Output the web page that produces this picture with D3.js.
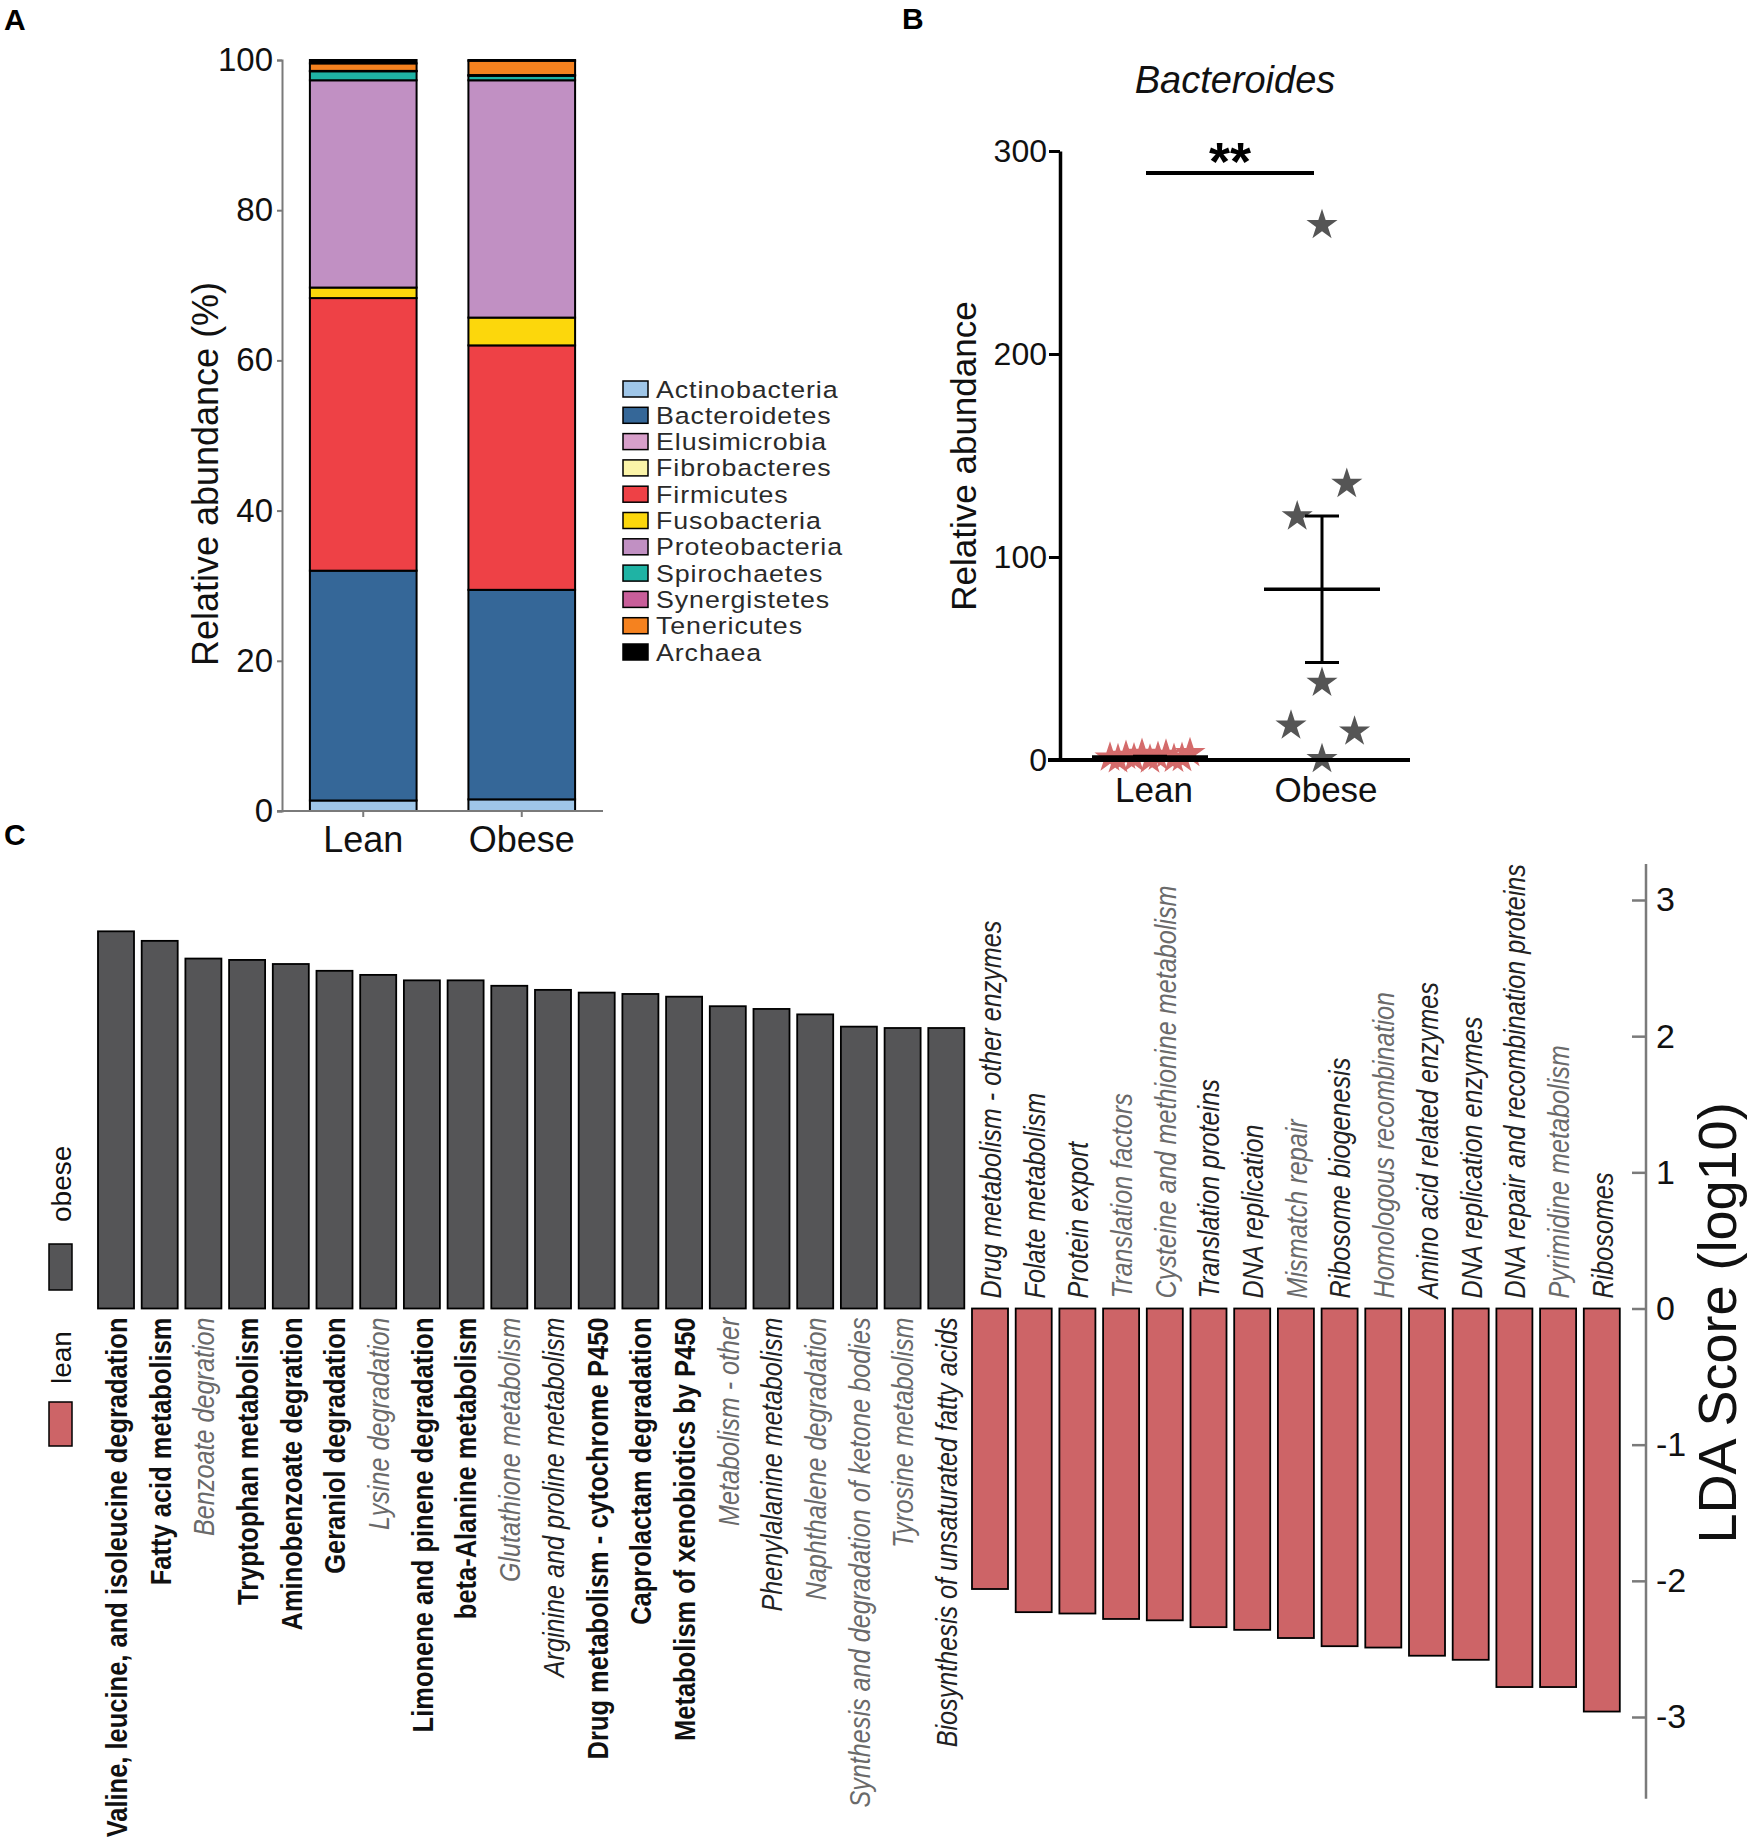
<!DOCTYPE html>
<html lang="en">
<head>
    <meta charset="UTF-8">
    <title>Lean vs obese microbiota</title>
    <script src="https://d3js.org/d3.v7.min.js"></script>
    <style>
        body { margin: 0; background: #fff; }
        svg { display: block; }
        text { font-family: "Liberation Sans", Arial, sans-serif; }
    </style>
</head>
<body>
<div id="container"></div>
<script>
    // ---------- data ----------
    // panel A: relative abundance (%) of phyla
    const phyla = ['Actinobacteria', 'Bacteroidetes', 'Elusimicrobia', 'Fibrobacteres', 'Firmicutes',
        'Fusobacteria', 'Proteobacteria', 'Spirochaetes', 'Synergistetes', 'Tenericutes', 'Archaea'];
    const phylaColors = ['#9fc6e8', '#356798', '#d79fca', '#fbf4a8', '#ee4146',
        '#fcd70c', '#c190c3', '#1fb3a4', '#c95e9a', '#f5821f', '#000000'];
    const groupsA = ['Lean', 'Obese'];
    const leanPct = [1.4, 30.6, 0, 0, 36.3, 1.4, 27.6, 1.2, 0.05, 1.0, 0.45];
    const obesePct = [1.55, 27.9, 0, 0, 32.55, 3.7, 31.6, 0.6, 0.1, 1.9, 0.1];
    const ticksA = [0, 20, 40, 60, 80, 100];

    // panel B: Bacteroides relative abundance per sample
    const leanBact = [1.2, 0.4, 2.1, 0.8, 3.0, 0.2, 1.6, 2.6, 0.6, 1.0, 3.4];
    const obeseBact = [263.5, 136, 120, 38, 17, 14, 0.5];
    const obeseJitter = [0, 0.8, -0.8, 0, -1.0, 1.05, 0]; // in star widths
    const ticksB = [0, 100, 200, 300];

    // panel C: LDA scores
    const obeseFeatures = ['Valine, leucine, and isoleucine degradation', 'Fatty acid metabolism', 'Benzoate degration',
        'Tryptophan metabolism', 'Aminobenzoate degration', 'Geraniol degradation', 'Lysine degradation',
        'Limonene and pinene degradation', 'beta-Alanine metabolism', 'Glutathione metabolism',
        'Arginine and proline metabolism', 'Drug metabolism - cytochrome P450', 'Caprolactam degradation',
        'Metabolism of xenobiotics by P450', 'Metabolism - other', 'Phenylalanine metabolism',
        'Naphthalene degradation', 'Synthesis and degradation of ketone bodies', 'Tyrosine metabolism',
        'Biosynthesis of unsaturated fatty acids'];
    const obeseLDA = [2.77, 2.70, 2.57, 2.56, 2.53, 2.48, 2.45, 2.41, 2.41, 2.37, 2.34, 2.32, 2.31,
        2.29, 2.22, 2.20, 2.16, 2.07, 2.06, 2.06];
    const obeseStyle = ['b', 'b', 'l', 'b', 'b', 'b', 'l', 'b', 'b', 'l', 'i', 'b', 'b', 'b', 'l', 'i', 'l', 'l', 'l', 'i'];

    const leanFeatures = ['Drug metabolism - other enzymes', 'Folate metabolism', 'Protein export', 'Translation factors',
        'Cysteine and methionine metabolism', 'Translation proteins', 'DNA replication', 'Mismatch repair',
        'Ribosome biogenesis', 'Homologous recombination', 'Amino acid related enzymes', 'DNA replication enzymes',
        'DNA repair and recombination proteins', 'Pyrimidine metabolism', 'Ribosomes'];
    const leanLDA = [-2.06, -2.23, -2.24, -2.28, -2.29, -2.34, -2.36, -2.42, -2.48, -2.49, -2.55, -2.58,
        -2.78, -2.78, -2.96];
    const leanStyle = ['i', 'i', 'i', 'l', 'l', 'i', 'i', 'l', 'i', 'l', 'i', 'i', 'i', 'l', 'i'];
    const ticksC = [-3, -2, -1, 0, 1, 2, 3];

    const svg = d3.select('#container').append('svg')
        .attr('width', 1750).attr('height', 1839);

    // panel letters
    [['A', 4, 30], ['B', 902, 29], ['C', 4, 845]].forEach(p => {
        svg.append('text').attr('x', p[1]).attr('y', p[2]).text(p[0])
            .attr('font-size', 30).attr('font-weight', 'bold');
    });

    // ================= panel A =================
    const gA = svg.append('g');
    const xA = d3.scaleBand().domain(groupsA).range([282, 603]).paddingInner(0.327).paddingOuter(0.176);
    const yA = d3.scaleLinear().domain([0, 100]).range([811, 60]);

    const rowsA = groupsA.map((g, gi) => {
        const row = { group: g };
        phyla.forEach((p, i) => { row[p] = gi === 0 ? leanPct[i] : obesePct[i]; });
        return row;
    });
    const stackA = d3.stack().keys(phyla)(rowsA);

    stackA.forEach((layer, li) => {
        gA.selectAll(null)
            .data(layer.filter(d => d[1] - d[0] > 0.01))
            .enter()
            .append('rect')
            .attr('x', d => xA(d.data.group))
            .attr('width', xA.bandwidth())
            .attr('y', d => yA(d[1]))
            .attr('height', d => yA(d[0]) - yA(d[1]))
            .attr('fill', phylaColors[li])
            .attr('stroke', '#000')
            .attr('stroke-width', 2);
    });

    const axisAy = gA.append('g').attr('transform', 'translate(282,0)')
        .call(d3.axisLeft(yA).tickValues(ticksA).tickSize(5).tickPadding(4));
    axisAy.select('.domain').attr('stroke', '#7a7a7a').attr('stroke-width', 2);
    axisAy.selectAll('.tick line').attr('stroke', '#7a7a7a').attr('stroke-width', 2);
    axisAy.selectAll('.tick text').attr('font-size', 33).attr('fill', '#111')
        .attr('font-family', '"Liberation Sans", Arial, sans-serif');

    const axisAx = gA.append('g').attr('transform', 'translate(0,811)')
        .call(d3.axisBottom(xA).tickSize(6).tickSizeOuter(0).tickPadding(9));
    axisAx.select('.domain').attr('stroke', '#7a7a7a').attr('stroke-width', 2)
        .attr('d', 'M277,0H603');
    axisAx.selectAll('.tick line').attr('stroke', '#7a7a7a').attr('stroke-width', 2);
    axisAx.selectAll('.tick text').attr('font-size', 36).attr('fill', '#111')
        .attr('font-family', '"Liberation Sans", Arial, sans-serif');

    gA.append('text')
        .attr('transform', 'translate(218,474) rotate(-90)')
        .attr('text-anchor', 'middle')
        .attr('font-size', 36).attr('fill', '#111')
        .text('Relative abundance (%)');

    // legend
    const legA = gA.append('g').attr('transform', 'translate(623,389)');
    phyla.forEach((p, i) => {
        const row = legA.append('g').attr('transform', `translate(0,${i * 26.3})`);
        row.append('rect').attr('x', 0).attr('y', -8).attr('width', 25).attr('height', 16)
            .attr('fill', phylaColors[i]).attr('stroke', '#000').attr('stroke-width', 1.5);
        row.append('text').attr('transform', 'translate(33,8.5) scale(1.14,1)')
            .attr('font-size', 23.5).attr('letter-spacing', 0.8).attr('fill', '#2a2a2a')
            .text(p);
    });

    // ================= panel B =================
    const gB = svg.append('g');
    const groupsB = ['Lean', 'Obese'];
    const xB = d3.scalePoint().domain(groupsB).range([1150, 1322]);
    const yB = d3.scaleLinear().domain([0, 300]).range([760, 151]);

    gB.append('text')
        .attr('x', 1235).attr('y', 93).attr('text-anchor', 'middle')
        .attr('font-size', 38).attr('font-style', 'italic').attr('fill', '#111')
        .text('Bacteroides');

    const axisBy = gB.append('g').attr('transform', 'translate(1060,0)')
        .call(d3.axisLeft(yB).tickValues(ticksB).tickSize(11).tickSizeOuter(0).tickPadding(2));
    axisBy.select('.domain').attr('stroke', '#000').attr('stroke-width', 3.5);
    axisBy.selectAll('.tick line').attr('stroke', '#000').attr('stroke-width', 3);
    axisBy.selectAll('.tick text').attr('font-size', 32).attr('fill', '#111')
        .attr('font-family', '"Liberation Sans", Arial, sans-serif');

    gB.append('text')
        .attr('transform', 'translate(976,456) rotate(-90)')
        .attr('text-anchor', 'middle')
        .attr('font-size', 35).attr('fill', '#111')
        .text('Relative abundance');

    const starSize = 300;
    const star = d3.symbol().type(d3.symbolStar).size(starSize);

    // lean points (spread evenly around the group centre)
    gB.selectAll('.lean-pt')
        .data(leanBact)
        .enter()
        .append('path')
        .attr('d', star)
        .attr('transform', (d, i) => `translate(${xB('Lean') + (i - (leanBact.length - 1) / 2) * 8},${yB(d)})`)
        .attr('fill', '#d46b6b');

    // obese points
    gB.selectAll('.obese-pt')
        .data(obeseBact)
        .enter()
        .append('path')
        .attr('d', star)
        .attr('transform', (d, i) => `translate(${xB('Obese') + obeseJitter[i] * 31},${yB(d)})`)
        .attr('fill', '#555555');

    // x axis line of panel B (drawn over points)
    gB.append('line').attr('x1', 1048).attr('x2', 1410).attr('y1', yB(0)).attr('y2', yB(0))
        .attr('stroke', '#000').attr('stroke-width', 4);

    // mean +- SEM
    [[groupsB[0], leanBact], [groupsB[1], obeseBact]].forEach(([g, vals]) => {
        const m = d3.mean(vals);
        const sem = d3.deviation(vals) / Math.sqrt(vals.length);
        const cx = xB(g);
        gB.append('line').attr('x1', cx - 58).attr('x2', cx + 58).attr('y1', yB(m)).attr('y2', yB(m))
            .attr('stroke', '#000').attr('stroke-width', 3.5);
        gB.append('line').attr('x1', cx).attr('x2', cx).attr('y1', yB(m + sem)).attr('y2', yB(m - sem))
            .attr('stroke', '#000').attr('stroke-width', 3);
        [m + sem, m - sem].forEach(v => {
            gB.append('line').attr('x1', cx - 17).attr('x2', cx + 17).attr('y1', yB(v)).attr('y2', yB(v))
                .attr('stroke', '#000').attr('stroke-width', 3);
        });
    });

    const axisBx = gB.append('g');
    groupsB.forEach(g => {
        axisBx.append('text').attr('x', xB(g) + 4).attr('y', 802).attr('text-anchor', 'middle')
            .attr('font-size', 35).attr('fill', '#111').text(g);
    });

    // significance bracket
    gB.append('line').attr('x1', 1146).attr('x2', 1314).attr('y1', 173).attr('y2', 173)
        .attr('stroke', '#000').attr('stroke-width', 4);
    gB.append('text').attr('x', 1230).attr('y', 180).attr('text-anchor', 'middle')
        .attr('font-size', 54).attr('font-weight', 'bold').text('**');

    // ================= panel C =================
    const gC = svg.append('g');
    const allFeatures = obeseFeatures.concat(leanFeatures);
    const allLDA = obeseLDA.concat(leanLDA);
    const allStyle = obeseStyle.concat(leanStyle);
    const dataC = allFeatures.map((f, i) => ({ name: f, lda: allLDA[i], style: allStyle[i] }));

    const xC = d3.scaleBand().domain(allFeatures).range([94.15, 1623.65])
        .paddingInner(0.176).paddingOuter(0.088);
    const yC = d3.scaleLinear().domain([-3, 3]).range([1717, 900]);

    gC.selectAll('.lda-bar')
        .data(dataC)
        .enter()
        .append('rect')
        .attr('x', d => xC(d.name))
        .attr('width', xC.bandwidth())
        .attr('y', d => yC(Math.max(0, d.lda)))
        .attr('height', d => Math.abs(yC(d.lda) - yC(0)))
        .attr('fill', d => d.lda > 0 ? '#555557' : '#cd6467')
        .attr('stroke', '#000')
        .attr('stroke-width', 1.8);

    const styleFill = { b: '#111', i: '#222', l: '#6a6a6a' };
    gC.selectAll('.lda-label')
        .data(dataC)
        .enter()
        .append('text')
        .attr('transform', d => {
            const cx = xC(d.name) + xC.bandwidth() / 2;
            const y0 = d.lda > 0 ? yC(0) + 9 : yC(0) - 10;
            const sx = d.style === 'b' ? 0.85 : 0.84;
            return `translate(${cx},${y0}) rotate(-90) scale(${sx},1)`;
        })
        .attr('dy', '0.36em')
        .attr('text-anchor', d => d.lda > 0 ? 'end' : 'start')
        .attr('font-size', 30)
        .attr('font-weight', d => d.style === 'b' ? 'bold' : 'normal')
        .attr('font-style', d => d.style === 'b' ? 'normal' : 'italic')
        .attr('fill', d => styleFill[d.style])
        .text(d => d.name);

    // LDA axis on the right
    const axisC = gC.append('g').attr('transform', 'translate(1646,0)')
        .call(d3.axisRight(yC).tickValues(ticksC).tickFormat(d => String(d)).tickSize(0).tickPadding(10));
    axisC.select('.domain').attr('stroke', '#7a7a7a').attr('stroke-width', 2.5)
        .attr('d', `M0,${yC(3.265)}V${yC(-3.6)}`);
    axisC.selectAll('.tick text').attr('font-size', 34).attr('fill', '#111')
        .attr('font-family', '"Liberation Sans", Arial, sans-serif');
    axisC.selectAll('.tick').append('line')
        .attr('x1', -14).attr('x2', 0).attr('stroke', '#7a7a7a').attr('stroke-width', 2.5);

    gC.append('text')
        .attr('transform', 'translate(1736,1323) rotate(-90)')
        .attr('text-anchor', 'middle')
        .attr('font-size', 54).attr('fill', '#111')
        .text('LDA Score (log10)');

    // legend (rotated)
    const legC = [['obese', '#555557', 1244, 1290, 1222], ['lean', '#cd6467', 1402, 1446, 1384]];
    legC.forEach(l => {
        gC.append('rect').attr('x', 49).attr('y', l[2]).attr('width', 23).attr('height', l[3] - l[2])
            .attr('fill', l[1]).attr('stroke', '#000').attr('stroke-width', 1.5);
        gC.append('text')
            .attr('transform', `translate(61,${l[4]}) rotate(-90)`)
            .attr('dy', '0.36em')
            .attr('font-size', 28).attr('fill', '#111')
            .text(l[0]);
    });
</script>
</body>
</html>
